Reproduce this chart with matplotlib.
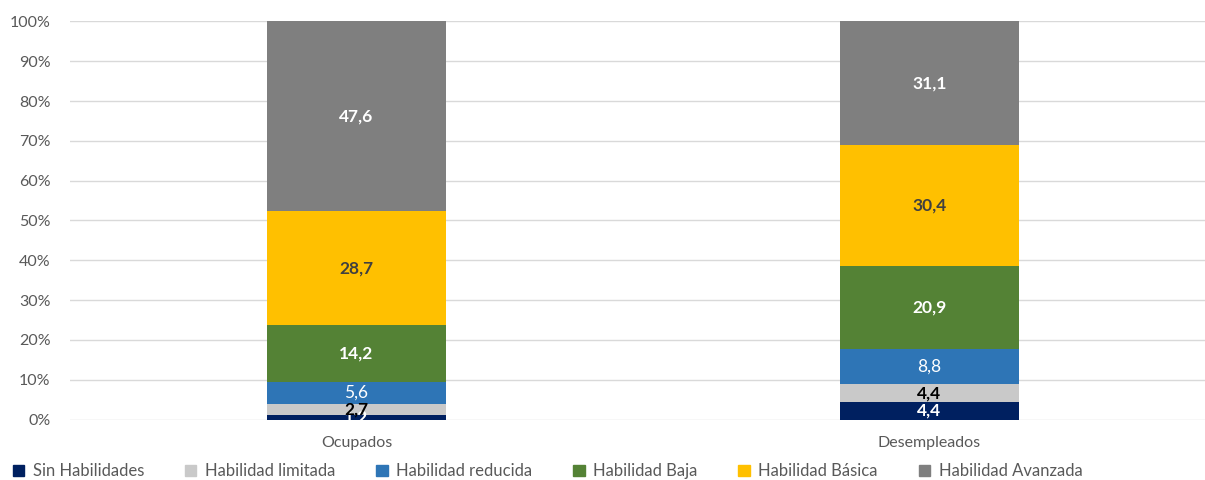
import numpy as np
import matplotlib.pyplot as plt
from matplotlib.patches import Patch

plt.rcParams['font.family'] = ['Lato', 'DejaVu Sans']

categorias = ['Ocupados', 'Desempleados']
series = ['Sin Habilidades', 'Habilidad limitada', 'Habilidad reducida',
          'Habilidad Baja', 'Habilidad Básica', 'Habilidad Avanzada']
valores = [
    [1.2, 4.4],
    [2.7, 4.4],
    [5.6, 8.8],
    [14.2, 20.9],
    [28.7, 30.4],
    [47.6, 31.1],
]
colores = ['#002060', '#C9C9C9', '#2E75B6', '#548235', '#FFC000', '#7F7F7F']
color_texto = ['white', 'black', 'white', 'white', '#404040', 'white']
peso_texto = ['bold', 'bold', 'normal', 'bold', 'bold', 'bold']

fig = plt.figure(figsize=(12.05, 4.8), dpi=100)
ax = fig.add_axes([70 / 1205, 60.5 / 480, 1146 / 1205, 398 / 480])

x = np.arange(len(categorias))
base = np.zeros(len(categorias))
for i, serie in enumerate(series):
    v = np.array(valores[i])
    ax.bar(x, v, 0.312, bottom=base, color=colores[i], label=serie, zorder=2)
    for j in range(len(x)):
        ax.text(x[j], base[j] + v[j] / 2, f'{v[j]:.1f}'.replace('.', ','),
                ha='center', va='center', color=color_texto[i],
                fontsize=12.5, fontweight=peso_texto[i], zorder=3)
    base += v

ax.set_xlim(-0.5, 1.5)
ax.set_ylim(0, 100)
ax.set_yticks(np.arange(0, 101, 10))
ax.set_yticklabels([f'{t}%' for t in range(0, 101, 10)])
ax.set_xticks(x)
ax.set_xticklabels(categorias)
ax.grid(axis='y', color='#D9D9D9', linewidth=1, zorder=0)
for s in ax.spines.values():
    s.set_visible(False)
ax.tick_params(axis='both', length=0, colors='#595959', labelsize=11.5)
ax.tick_params(axis='y', pad=14)
ax.tick_params(axis='x', pad=12)

handles = [Patch(color=c) for c in colores]
fig.legend(handles, series, loc='lower left', bbox_to_anchor=(-0.002, -0.03),
           ncol=6, frameon=False, fontsize=12, handlelength=0.7, handleheight=0.7,
           handletextpad=0.5, columnspacing=2.45, labelcolor='#595959')

fig.savefig('out.png', dpi=100)
